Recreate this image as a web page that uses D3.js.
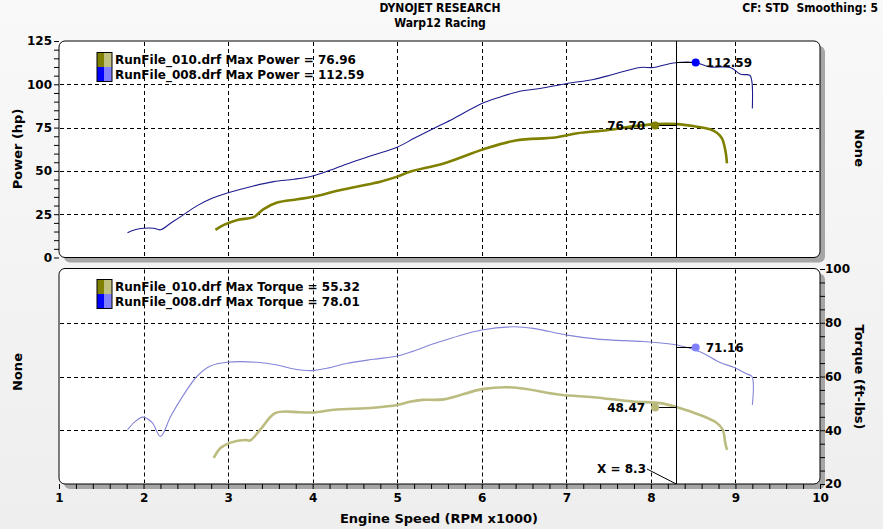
<!DOCTYPE html>
<html><head><meta charset="utf-8">
<script src="https://cdn.jsdelivr.net/npm/d3@7"></script>
<style>
html,body{margin:0;padding:0;background:#f0f0f0;}
svg{display:block;}
text{font-family:"DejaVu Sans",Verdana,sans-serif;font-weight:bold;fill:#000;white-space:pre;}
</style></head><body>
<svg id="c" width="883" height="529"></svg>
<script>
// ---------- data ----------
const titleLines = ["DYNOJET RESEARCH", "Warp12 Racing"];
const cornerNote = "CF: STD  Smoothing: 5";
const runNames = ["RunFile_010.drf", "RunFile_008.drf"];
const maxPower = [76.96, 112.59];
const maxTorque = [55.32, 78.01];

const rpm008P = [1.81,1.90,2.0,2.12,2.2,2.32,2.44,2.63,2.81,2.99,3.30,3.54,3.78,4.0,4.21,4.48,4.72,5.0,5.2,5.43,5.67,6.0,6.22,6.42,6.69,7.01,7.32,7.56,7.87,8.03,8.27,8.52,8.70,8.94,9.06,9.17,9.195,9.2];
const hp008   = [14.3,16.0,16.9,16.9,16.0,19.8,23.6,29.8,34.2,37.2,41.3,43.8,45.2,47.1,50.5,55.3,59.2,63.7,68.8,74.5,80.3,88.9,92.7,95.6,97.6,100.5,102.8,105.8,109.7,109.7,112.3,112.6,110.0,109.7,105.8,105.2,101.4,86.0];

const rpm010P = [2.85,2.95,3.11,3.30,3.42,3.58,3.82,4.05,4.29,4.56,4.80,5.0,5.15,5.55,6.02,6.40,6.87,7.13,7.48,7.79,8.05,8.31,8.50,8.70,8.78,8.84,8.88,8.90];
const hp010   = [16.0,18.8,21.7,23.3,27.9,31.7,33.6,35.5,38.6,41.3,43.8,46.7,49.5,54.3,62.5,67.6,69.3,71.7,73.5,75.7,77.0,77.0,75.9,74.0,72.0,68.8,62.0,54.4];

const rpm008T = [1.81,1.90,1.99,2.10,2.20,2.32,2.46,2.63,2.79,2.99,3.34,3.58,3.78,3.99,4.17,4.41,4.72,5.0,5.15,5.51,6.0,6.38,6.61,7.01,7.40,7.91,8.31,8.58,8.82,8.98,9.13,9.195,9.2];
const tq008   = [40.2,43.2,44.9,42.9,37.7,45.1,52.5,60.0,63.9,65.3,65.3,64.3,62.8,62.2,63.1,64.9,66.4,67.6,69.0,73.0,77.3,78.5,77.9,75.4,73.8,73.0,71.7,69.2,65.2,63.4,61.0,60.0,49.4];

const rpm010T = [2.83,2.91,3.03,3.20,3.26,3.38,3.56,3.85,4.01,4.25,4.72,5.0,5.15,5.3,5.55,6.02,6.38,6.93,7.32,7.79,8.11,8.31,8.58,8.78,8.85,8.88,8.90];
const tq010   = [29.7,33.4,35.4,36.4,36.2,40.2,46.4,46.7,46.6,47.6,48.4,49.4,50.6,51.3,51.5,55.4,55.9,53.2,52.3,50.7,50.1,48.6,45.7,42.7,40.2,35.2,32.7];

const cursorRpm = 8.3;
const markRpm = [8.05, 8.53];
const markPower = [76.70, 112.59];
const markTorque = [48.47, 71.16];

const xTicks = [1,2,3,4,5,6,7,8,9,10];
const powerTicks = [0,25,50,75,100,125];
const torqueTicks = [20,40,60,80,100];

// ---------- styles ----------
const cPowDark = ["#808000", "#1c1c8e"];
const cMark = ["#808000", "#0000ff"];
const cTqLine = ["#bcbc80", "#8484d8"];
const cTqMark = ["#b8b878", "#8080ff"];
const wPow = [2.6, 1.1];
const swDark = ["#808000", "#0000ff"];
const swLight = ["#c0c080", "#8080ff"];

const svg = d3.select("#c");
const defs = svg.append("defs");
const g0 = defs.append("linearGradient").attr("id","bg").attr("x1",0).attr("y1",0).attr("x2",0).attr("y2",1);
g0.append("stop").attr("offset","0%").attr("stop-color","#f9f9f9");
g0.append("stop").attr("offset","100%").attr("stop-color","#eeeeee");
svg.append("rect").attr("width",883).attr("height",529).attr("fill","url(#bg)");

const x = d3.scaleLinear().domain([1,10]).range([59,820]);
const yP = d3.scaleLinear().domain([0,125]).range([257.5,41]);
const yT = d3.scaleLinear().domain([20,100]).range([484,269]);

const panels = [
  {top:41, bot:257.5},
  {top:268.5, bot:484}
];
panels.forEach((p,i)=>{
  svg.append("rect").attr("x",x(1)+5).attr("y",p.top+5).attr("width",x(10)-x(1)).attr("height",p.bot-p.top)
    .attr("rx",6).attr("fill","#a6a6a6");
  svg.append("rect").attr("x",x(1)).attr("y",p.top).attr("width",x(10)-x(1)).attr("height",p.bot-p.top)
    .attr("rx",6).attr("fill","#fff").attr("stroke","#000").attr("stroke-width",1);
  defs.append("clipPath").attr("id","clip"+i).append("rect")
    .attr("x",x(1)).attr("y",p.top).attr("width",x(10)-x(1)).attr("height",p.bot-p.top);
});

const r = v => Math.round(v)+0.5;
function vgrid(p){
  svg.append("g").selectAll("line").data(xTicks.slice(1,-1)).join("line")
    .attr("x1",d=>r(x(d))).attr("x2",d=>r(x(d))).attr("y1",p.top+1).attr("y2",p.bot-1)
    .attr("stroke","#000").attr("stroke-dasharray","4,3");
}
vgrid(panels[0]); vgrid(panels[1]);
svg.append("g").selectAll("line").data(powerTicks.slice(1,-1)).join("line")
  .attr("x1",x(1)+1).attr("x2",x(10)-1).attr("y1",d=>r(yP(d))).attr("y2",d=>r(yP(d)))
  .attr("stroke","#000").attr("stroke-dasharray","4,3");
svg.append("g").selectAll("line").data(torqueTicks.slice(1,-1)).join("line")
  .attr("x1",x(1)+1).attr("x2",x(10)-1).attr("y1",d=>r(yT(d))).attr("y2",d=>r(yT(d)))
  .attr("stroke","#000").attr("stroke-dasharray","4,3");

// axes
const axL = svg.append("g").attr("transform",`translate(${x(1)},0)`)
  .call(d3.axisLeft(yP).tickValues(d3.range(0,126,5)).tickSize(5).tickPadding(2)
    .tickFormat(d=> powerTicks.includes(d)? d : ""));
axL.select(".domain").remove();
axL.selectAll("text").style("font-size","12px");

const axB = svg.append("g").attr("transform",`translate(0,${panels[1].bot})`)
  .call(d3.axisBottom(x).tickValues(d3.range(1,10.001,0.2)).tickSize(5).tickPadding(4)
    .tickFormat(d=> Math.abs(d-Math.round(d))<1e-6 ? Math.round(d) : ""));
axB.select(".domain").remove();
axB.selectAll("text").style("font-size","12px");

const axR = svg.append("g").attr("transform",`translate(${x(10)},0)`)
  .call(d3.axisRight(yT).tickValues(d3.range(20,100.1,5)).tickSize(5).tickPadding(0)
    .tickFormat(d=> torqueTicks.includes(d)? d : ""));
axR.select(".domain").remove();
axR.selectAll("text").style("font-size","12px");

// curves
const lineP = d3.line().x(d=>x(d[0])).y(d=>yP(d[1])).curve(d3.curveCatmullRom.alpha(0.5));
const lineT = d3.line().x(d=>x(d[0])).y(d=>yT(d[1])).curve(d3.curveCatmullRom.alpha(0.5));
const gP = svg.append("g").attr("clip-path","url(#clip0)");
const gT = svg.append("g").attr("clip-path","url(#clip1)");
gP.append("path").datum(d3.zip(rpm008P,hp008)).attr("d",lineP).attr("fill","none")
  .attr("stroke",cPowDark[1]).attr("stroke-width",wPow[1]);
gP.append("path").datum(d3.zip(rpm010P,hp010)).attr("d",lineP).attr("fill","none")
  .attr("stroke",cPowDark[0]).attr("stroke-width",wPow[0]);
gT.append("path").datum(d3.zip(rpm008T,tq008)).attr("d",lineT).attr("fill","none")
  .attr("stroke",cTqLine[1]).attr("stroke-width",wPow[1]);
gT.append("path").datum(d3.zip(rpm010T,tq010)).attr("d",lineT).attr("fill","none")
  .attr("stroke",cTqLine[0]).attr("stroke-width",wPow[0]);

// cursor
panels.forEach(p=>{
  svg.append("line").attr("x1",r(x(cursorRpm))).attr("x2",r(x(cursorRpm))).attr("y1",p.top).attr("y2",p.bot)
    .attr("stroke","#000").attr("stroke-width",1);
});

// markers
[0,1].forEach(i=>{
  const mx = x(markRpm[i]);
  const py = Math.round(yP(markPower[i]))+0.5;
  svg.append("line").attr("x1",x(cursorRpm)).attr("x2",mx).attr("y1",py).attr("y2",py).attr("stroke","#000");
  svg.append("circle").attr("cx",mx).attr("cy",py).attr("r",4).attr("fill",cMark[i]);
  svg.append("text").attr("x", i===0? mx-10 : mx+10).attr("y",py).attr("dy","0.36em")
    .attr("text-anchor", i===0? "end":"start").style("font-size","12px").text(markPower[i].toFixed(2));
  const ty = Math.round(yT(markTorque[i]))+0.5;
  svg.append("line").attr("x1",x(cursorRpm)).attr("x2",mx).attr("y1",ty).attr("y2",ty).attr("stroke","#000");
  svg.append("circle").attr("cx",mx).attr("cy",ty).attr("r",4).attr("fill",cTqMark[i]);
  svg.append("text").attr("x", i===0? mx-10 : mx+10).attr("y",ty).attr("dy","0.36em")
    .attr("text-anchor", i===0? "end":"start").style("font-size","12px").text(markTorque[i].toFixed(2));
});

svg.append("text").attr("x",646).attr("y",469).attr("dy","0.36em").attr("text-anchor","end")
  .style("font-size","12px").text("X = " + cursorRpm);
svg.append("line").attr("x1",647).attr("y1",469).attr("x2",x(cursorRpm)).attr("y2",panels[1].bot).attr("stroke","#000");

// legends
function legend(top, label, vals){
  const lx = 97;
  [0,1].forEach(i=>{
    const yy = top + i*14.5;
    svg.append("rect").attr("x",lx).attr("y",yy).attr("width",7.5).attr("height",14.5).attr("fill",swDark[i]);
    svg.append("rect").attr("x",lx+7.5).attr("y",yy).attr("width",7.5).attr("height",14.5).attr("fill",swLight[i]);
    svg.append("text").attr("x",lx+18).attr("y",yy+7.5).attr("dy","0.36em").style("font-size","12px")
      .text(`${runNames[i]} ${label} = ${vals[i].toFixed(2)}`);
  });
  svg.append("rect").attr("x",lx).attr("y",top).attr("width",15).attr("height",29).attr("fill","none").attr("stroke","#000");
}
legend(52.5, "Max Power", maxPower);
legend(279.5, "Max Torque", maxTorque);

// titles
svg.append("text").attr("x",440).attr("y",12).attr("text-anchor","middle")
  .style("font-family","'DejaVu Sans Condensed','DejaVu Sans'").style("font-size","12px").text(titleLines[0]);
svg.append("text").attr("x",440).attr("y",27).attr("text-anchor","middle")
  .style("font-family","'DejaVu Sans Condensed','DejaVu Sans'").style("font-size","12px").text(titleLines[1]);
svg.append("text").attr("x",878).attr("y",12).attr("text-anchor","end")
  .style("font-family","'DejaVu Sans Condensed','DejaVu Sans'").style("font-size","12px").text(cornerNote);

function vtext(cx, cy, rot, s){
  svg.append("text").attr("transform",`translate(${cx},${cy}) rotate(${rot})`).attr("text-anchor","middle")
    .attr("dy","0.36em").style("font-size","13px").text(s);
}
vtext(17, 149, -90, "Power (hp)");
vtext(860, 148, 90, "None");
vtext(17, 372, -90, "None");
vtext(860, 377, 90, "Torque (ft-lbs)");
svg.append("text").attr("x",439).attr("y",518).attr("text-anchor","middle").attr("dy","0.36em")
  .style("font-size","13px").text("Engine Speed (RPM x1000)");
</script>
</body></html>
